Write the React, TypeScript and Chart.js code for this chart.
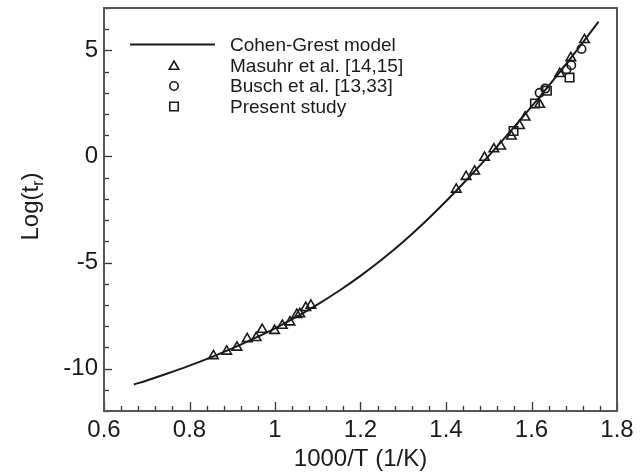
import React, { useEffect, useRef } from "react";
import { Chart, registerables } from "chart.js";
Chart.register(...registerables);

// Cohen-Grest model curve
const curveX = [0.67, 0.7, 0.75, 0.8, 0.85, 0.9, 0.95, 1.0, 1.05, 1.1, 1.15, 1.2, 1.25, 1.3, 1.35, 1.4, 1.45, 1.5, 1.55, 1.6, 1.65, 1.7, 1.757];
const curveY = [-10.75, -10.56, -10.22, -9.86, -9.47, -9.05, -8.59, -8.1, -7.56, -6.97, -6.33, -5.63, -4.86, -4.02, -3.1, -2.11, -1.06, 0.03, 1.17, 2.35, 3.58, 4.85, 6.36];

// Masuhr et al. [14,15]
const masuhrX = [0.856, 0.887, 0.911, 0.935, 0.956, 0.970, 0.999, 1.017, 1.035, 1.051, 1.058, 1.072, 1.084,
  1.424, 1.447, 1.467, 1.490, 1.512, 1.528, 1.553, 1.572, 1.585, 1.619, 1.666, 1.692, 1.724];
const masuhrY = [-9.40, -9.19, -9.0, -8.60, -8.55, -8.16, -8.21, -7.97, -7.81, -7.46, -7.42, -7.13, -7.02,
  -1.55, -0.95, -0.70, -0.05, 0.35, 0.48, 0.95, 1.45, 1.85, 2.45, 3.9, 4.65, 5.5];

// Busch et al. [13,33]
const buschX = [1.619, 1.632, 1.682, 1.693, 1.717];
const buschY = [3.0, 3.2, 4.1, 4.3, 5.07];

// Present study
const presentX = [1.558, 1.608, 1.636, 1.689];
const presentY = [1.2, 2.5, 3.1, 3.72];

const xTickValues = [0.6, 0.8, 1.0, 1.2, 1.4, 1.6, 1.8];
const xTickLabels = ["0.6", "0.8", "1", "1.2", "1.4", "1.6", "1.8"];
const yTickValues = [-10, -5, 0, 5];
const yTickLabels = ["-10", "-5", "0", "5"];
const legendLabels = ["Cohen-Grest model", "Masuhr et al. [14,15]", "Busch et al. [13,33]", "Present study"];

const FONT = "'Liberation Sans', Arial, sans-serif";
const INK = "#1a1a1a";

function pts(xs: number[], ys: number[]) {
  return xs.map((x, i) => ({ x, y: ys[i] }));
}

function labelFor(values: number[], labels: string[], v: number) {
  let best = 0;
  for (let i = 1; i < values.length; i++) {
    if (Math.abs(values[i] - v) < Math.abs(values[best] - v)) best = i;
  }
  return labels[best];
}

function drawMarker(ctx: CanvasRenderingContext2D, style: string, x: number, y: number, r: number) {
  ctx.beginPath();
  if (style === "triangle") {
    ctx.moveTo(x, y - r);
    ctx.lineTo(x + r * Math.sin(Math.PI / 3), y + r * 0.5);
    ctx.lineTo(x - r * Math.sin(Math.PI / 3), y + r * 0.5);
    ctx.closePath();
  } else if (style === "circle") {
    ctx.arc(x, y, r, 0, Math.PI * 2);
  } else {
    const s = Math.SQRT1_2 * r;
    ctx.rect(x - s, y - s, 2 * s, 2 * s);
  }
  ctx.stroke();
}

export default function App() {
  const ref = useRef<HTMLCanvasElement>(null);

  useEffect(() => {
    if (!ref.current) return;

    const framePlugin = {
      id: "framePlugin",
      afterDraw(chart: any) {
        const { ctx, chartArea: a, scales } = chart;
        const xs = scales.x;
        const ys = scales.y;
        ctx.save();
        // inward ticks
        ctx.strokeStyle = "#333";
        ctx.lineWidth = 1.3;
        for (let i = 0; i <= 30; i++) {
          const v = 0.6 + i * 0.04;
          const px = Math.round(xs.getPixelForValue(v)) + 0.5;
          const len = i % 5 === 0 ? 9 : 5;
          ctx.beginPath();
          ctx.moveTo(px, a.bottom);
          ctx.lineTo(px, a.bottom - len);
          ctx.stroke();
        }
        for (let v = -12; v <= 7; v++) {
          const py = Math.round(ys.getPixelForValue(v)) + 0.5;
          const len = v % 5 === 0 ? 8 : 5;
          ctx.beginPath();
          ctx.moveTo(a.left, py);
          ctx.lineTo(a.left + len, py);
          ctx.stroke();
        }
        // frame
        ctx.strokeStyle = "#555";
        ctx.lineWidth = 2;
        ctx.strokeRect(a.left, a.top, a.right - a.left, a.bottom - a.top);

        // legend
        const lx = a.left + 26;
        const lx2 = a.left + 111;
        const mx = a.left + 70;
        const tx = a.left + 126;
        const rows = [a.top + 36.5, a.top + 57.5, a.top + 78, a.top + 98.5];
        ctx.strokeStyle = INK;
        ctx.lineWidth = 2;
        ctx.beginPath();
        ctx.moveTo(lx, rows[0]);
        ctx.lineTo(lx2, rows[0]);
        ctx.stroke();
        ctx.lineWidth = 1.6;
        drawMarker(ctx, "triangle", mx, rows[1] + 1, 5.5);
        drawMarker(ctx, "circle", mx, rows[2], 4.2);
        drawMarker(ctx, "rect", mx, rows[3], 6);
        ctx.fillStyle = INK;
        ctx.font = `19px ${FONT}`;
        ctx.textAlign = "left";
        ctx.textBaseline = "middle";
        legendLabels.forEach((t, i) => ctx.fillText(t, tx, rows[i] + 1));

        // y-axis title with subscript
        const cx = 30;
        const cy = (a.top + a.bottom) / 2 - 3;
        ctx.translate(cx, cy);
        ctx.rotate(-Math.PI / 2);
        const big = `24px ${FONT}`;
        const small = `16px ${FONT}`;
        ctx.font = big;
        const w1 = ctx.measureText("Log(t").width;
        const w3 = ctx.measureText(")").width;
        ctx.font = small;
        const w2 = ctx.measureText("r").width;
        const total = w1 + w2 + w3;
        const x0 = -total / 2;
        ctx.textAlign = "left";
        ctx.textBaseline = "alphabetic";
        ctx.font = big;
        ctx.fillText("Log(t", x0, 8);
        ctx.font = small;
        ctx.fillText("r", x0 + w1, 13);
        ctx.font = big;
        ctx.fillText(")", x0 + w1 + w2, 8);
        ctx.restore();
      },
    };

    const chart = new Chart(ref.current, {
      type: "scatter",
      data: {
        datasets: [
          {
            type: "line",
            label: legendLabels[0],
            data: pts(curveX, curveY),
            borderColor: INK,
            borderWidth: 2,
            pointRadius: 0,
            fill: false,
            tension: 0.4,
            cubicInterpolationMode: "monotone",
          } as any,
          {
            label: legendLabels[1],
            data: pts(masuhrX, masuhrY),
            pointStyle: "triangle",
            pointRadius: 5.5,
            borderColor: INK,
            backgroundColor: "rgba(0,0,0,0)",
            borderWidth: 1.6,
          },
          {
            label: legendLabels[2],
            data: pts(buschX, buschY),
            pointStyle: "circle",
            pointRadius: 4.2,
            borderColor: INK,
            backgroundColor: "rgba(0,0,0,0)",
            borderWidth: 1.6,
          },
          {
            label: legendLabels[3],
            data: pts(presentX, presentY),
            pointStyle: "rect",
            pointRadius: 6,
            borderColor: INK,
            backgroundColor: "rgba(0,0,0,0)",
            borderWidth: 1.6,
          },
        ],
      },
      options: {
        animation: false,
        responsive: false,
        layout: { padding: { left: 0, top: 8, right: 24, bottom: 0 } },
        plugins: { legend: { display: false }, tooltip: { enabled: false } },
        scales: {
          x: {
            type: "linear",
            min: 0.6,
            max: 1.8,
            grid: { display: false, drawTicks: false },
            border: { display: false },
            afterBuildTicks: (s: any) => {
              s.ticks = xTickValues.map((v) => ({ value: v }));
            },
            afterFit: (s: any) => {
              s.height = 64;
              s.paddingLeft = 0;
              s.paddingRight = 0;
            },
            ticks: {
              font: { family: FONT, size: 24 },
              color: INK,
              padding: 5,
              maxRotation: 0,
              autoSkip: false,
              callback: (v: any) => labelFor(xTickValues, xTickLabels, Number(v)),
            },
            title: {
              display: true,
              text: "1000/T (1/K)",
              font: { family: FONT, size: 24 },
              color: INK,
              padding: { top: 0, bottom: 1 },
            },
          },
          y: {
            type: "linear",
            min: -12,
            max: 7,
            grid: { display: false, drawTicks: false },
            border: { display: false },
            afterBuildTicks: (s: any) => {
              s.ticks = yTickValues.map((v) => ({ value: v }));
            },
            afterFit: (s: any) => {
              s.width = 104;
              s.paddingTop = 0;
              s.paddingBottom = 0;
            },
            ticks: {
              font: { family: FONT, size: 24 },
              color: INK,
              padding: 6,
              autoSkip: false,
              callback: (v: any) => labelFor(yTickValues, yTickLabels, Number(v)),
            },
          },
        },
      },
      plugins: [framePlugin],
    });

    return () => chart.destroy();
  }, []);

  return (
    <div style={{ position: "absolute", left: 0, top: 0, width: 641, height: 475, background: "#fff" }}>
      <canvas ref={ref} width={641} height={475} style={{ display: "block" }} />
    </div>
  );
}
